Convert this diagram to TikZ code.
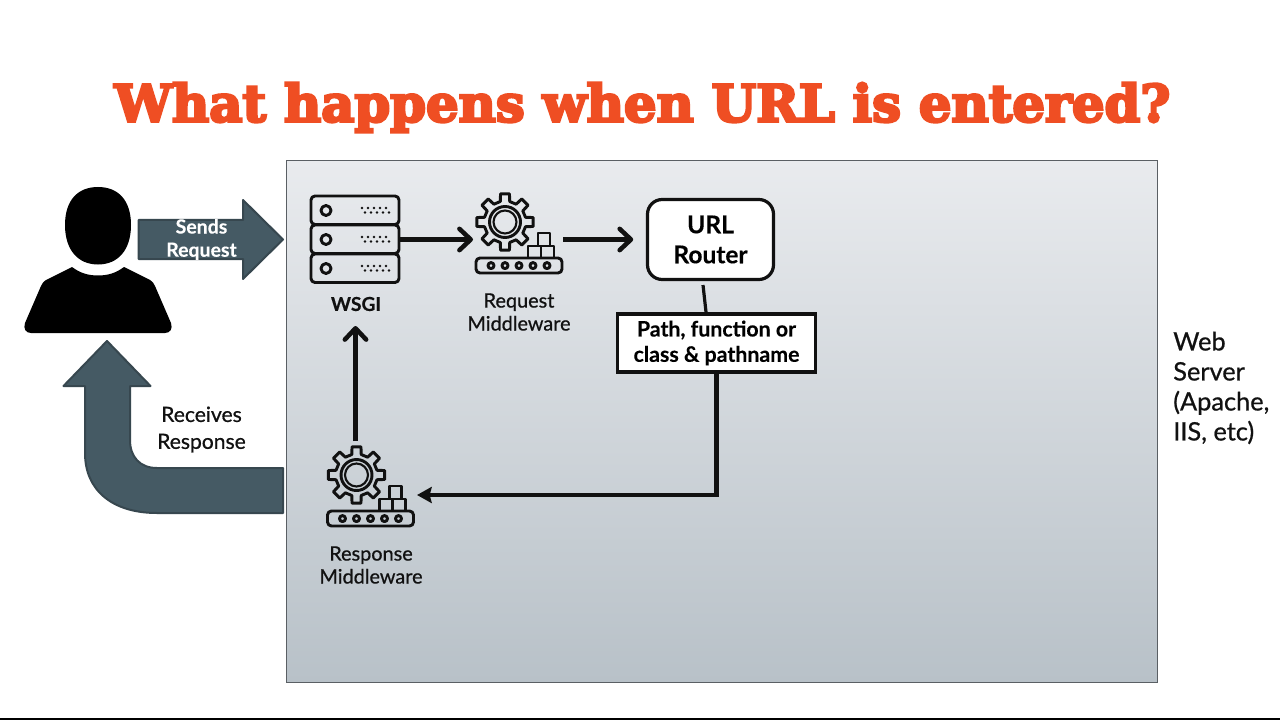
\documentclass[tikz,border=0pt]{standalone}
\usepackage{fontspec}
\setmainfont{Lato}[BoldFont={Lato Bold}]
\newfontfamily\titlefont{DejaVu Serif Bold}[FakeBold=5]
\newfontfamily\labelfont{Lato}[FakeBold=0.7]
\newfontfamily\strongfont{Lato Bold}[FakeBold=0.25]
\usetikzlibrary{arrows.meta}
\definecolor{titleorange}{HTML}{EF4E23}
\definecolor{arrowfill}{HTML}{455A64}
\definecolor{arrowedge}{HTML}{37474F}
\definecolor{panelborder}{HTML}{5A5F64}
\definecolor{paneltop}{HTML}{E9EBEE}
\definecolor{panelbottom}{HTML}{B8C1C8}
\definecolor{ink}{HTML}{111111}
\tikzset{
  x=0.75pt,y=-0.75pt,
  icon/.style={draw=ink,line width=2.2pt,line join=round,fill=none},
  iconbox/.style={icon,rounded corners=3pt},
  flow/.style={draw=ink,line width=3.4pt,-{Straight Barb[length=8.5pt,width=16pt,line width=3.4pt,round]}},
  flowsolid/.style={draw=ink,line width=3.4pt,line join=miter,-{Stealth[length=11pt,width=12pt,inset=1.5pt]}},
  frame/.style={draw=ink,fill=white,line width=2.4pt,align=center,inner sep=0pt},
  lbl/.style={align=center,inner sep=0pt,text=ink,font=\labelfont\fontsize{14.9}{17.2}\selectfont},
  fat/.style={fill=arrowfill,draw=arrowedge,line width=1.5pt,line join=round},
  spot/.style={inner sep=0pt,outer sep=0pt},
  gearicon/.pic={
    \draw[icon] (-13:21)
      \foreach \a in {0,45,...,315} { -- (\a-13:21) -- (\a-9:28.5) -- (\a+9:28.5) -- (\a+13:21) } -- cycle;
    \draw[icon] (0,0) circle[radius=15.5];
    \draw[icon,line width=1.6pt] (0,0) circle[radius=11.5];
    \draw[iconbox] (-29,36) rectangle (57,51);
    \foreach \i in {-14,0,14,28,42} \draw[icon] (\i,43.6) circle[radius=3];
    \draw[icon] (33,11) rectangle (45,24);
    \draw[icon] (23,24) rectangle (36,36);
    \draw[icon] (36,24) rectangle (49,36);
  },
}
\begin{document}
\begin{tikzpicture}
\useasboundingbox (0,0) rectangle (1280,720);
\fill[white] (0,0) rectangle (1280,720);
\fill[black] (0,718) rectangle (1280,720);

% title
\node[text=titleorange,inner sep=0pt] (title) at (642.5,107.5)
  {\resizebox{792pt}{!}{\titlefont\fontsize{40}{44}\selectfont What happens when URL is entered?}};

% panel
\shade[top color=paneltop,bottom color=panelbottom] (286.5,160.5) rectangle (1157,682);
\draw[panelborder,line width=0.7pt] (286.5,160.5) rectangle (1157,682);

% person
\path[fill=black] (65,225) .. controls (65,200) and (78,187) .. (98,187)
  .. controls (118,187) and (131,200) .. (131,225)
  .. controls (131,250) and (118,264.5) .. (98,264.5)
  .. controls (78,264.5) and (65,250) .. (65,225) -- cycle;
\path[fill=black] (72,267) .. controls (80,273) and (88,275.5) .. (98,275.5)
  .. controls (108,275.5) and (116,273) .. (124,267)
  -- (150,280) .. controls (153,282) and (154,284) .. (155,286)
  -- (171,323) .. controls (173,329) and (170,333) .. (165,333)
  -- (31,333) .. controls (26,333) and (23,329) .. (25,323)
  -- (41,286) .. controls (42,284) and (43,282) .. (46,280) -- cycle;

% wide arrows
\draw[fat] (138.5,220) -- (243,220) -- (243,200) -- (283,239.5) -- (243,279) -- (243,259) -- (138.5,259) -- cycle;
\draw[fat] (107,341) -- (150.5,386) -- (130,386) -- (130,440)
  .. controls (130,457) and (140,468) .. (157,468) -- (283,468) -- (283,513) -- (157,513)
  .. controls (112,513) and (85,490) .. (85,453) -- (85,386) -- (63.5,386) -- cycle;

\node[lbl,text=white,font=\strongfont\fontsize{14.6}{17.4}\selectfont] (sends) at (201.5,239.5) {Sends\\Request};
\node[lbl,font=\labelfont\fontsize{15.8}{20.2}\selectfont] (receives) at (201.5,429.5) {Receives\\Response};

% WSGI server icon
\node[spot,minimum width=66pt,minimum height=65pt] (wsgi) at (355,239.5) {};
\foreach \t in {196,225,254} {
  \draw[iconbox] (311,\t) rectangle (399,\t+28.5);
  \draw[icon] (326,\t+14.5) circle[radius=5];
  \foreach \d in {0,6,12,18,24} {
    \fill[ink] (362+\d,\t+12) circle[radius=1.4];
    \fill[ink] (365+\d,\t+16.5) circle[radius=1.4];
  }
}
\node[lbl,font=\strongfont\fontsize{14.4}{17.4}\selectfont] (wsgilabel) at (356,304) {WSGI};

% middleware icons
\pic at (505,222) {gearicon};
\pic at (356.5,475) {gearicon};
\node[spot,minimum width=67.5pt,minimum height=30pt] (reqmw) at (518,239.5) {};
\node[spot,minimum width=67.5pt,minimum height=30pt] (respmw) at (372,495) {};
\node[lbl] (reqlabel) at (519,312) {Request\\Middleware};
\node[lbl] (resplabel) at (371,565) {Response\\Middleware};

% router and path boxes
\node[frame,rounded corners=11pt,minimum width=94.5pt,minimum height=60pt,
  font=\strongfont\fontsize{18.4}{22.5}\selectfont] (router) at (710.5,239.5) {URL\\Router};
\node[frame,minimum width=148.5pt,minimum height=43.5pt,
  font=\strongfont\fontsize{16}{19}\selectfont] (path) at (716.5,343) {Path, function or\\class \& pathname};

% Web server label
\node[lbl,align=left,anchor=north west,font=\labelfont\fontsize{19}{22.5}\selectfont] (web) at (1173,331.5)
  {Web\\Server\\(Apache,\\IIS, etc)};

% connectors
\coordinate (routerstub) at (703,285);
\coordinate (pathstub) at (706,312);
\coordinate (gearabove) at (355.5,441);
\coordinate (arrowup) at (355.5,326);
\draw[flow] (wsgi.east) -- (reqmw.west);
\draw[flow,shorten >=9.5pt] (reqmw.east) -- (router.west);
\draw[draw=ink,line width=2.4pt] (routerstub) -- (pathstub);
\draw[flowsolid] (path.south) -- (path.south |- respmw.east) -- (respmw.east);
\draw[flow] (gearabove) -- (arrowup);
\end{tikzpicture}
\end{document}
